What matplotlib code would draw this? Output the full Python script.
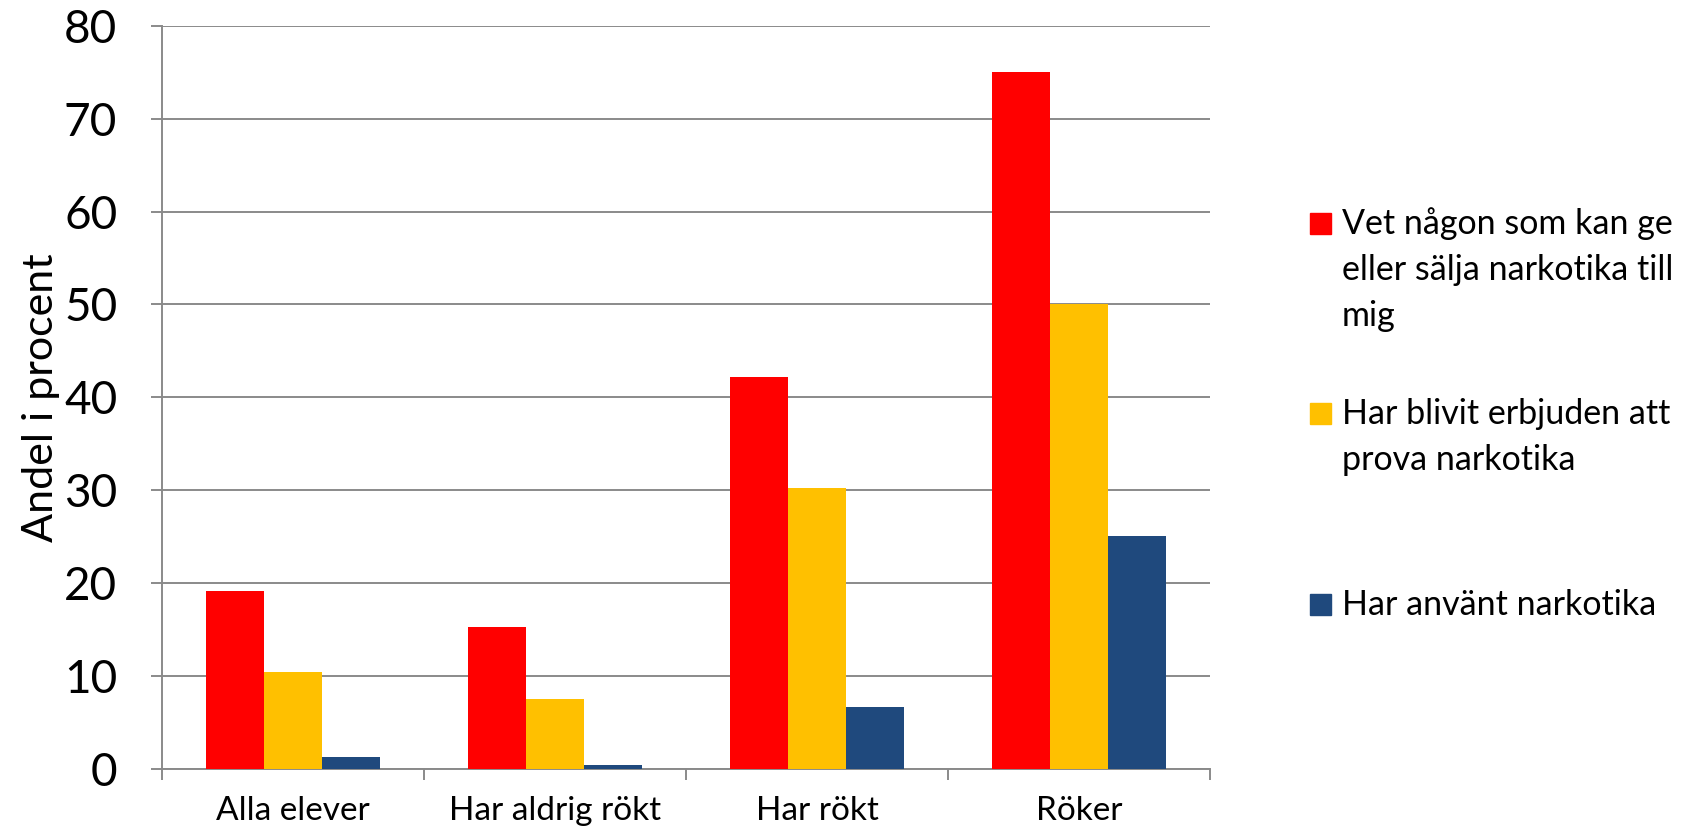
import numpy as np
import matplotlib
matplotlib.use("Agg")
import matplotlib.pyplot as plt
from matplotlib.patches import Rectangle

categories = ["Alla elever", "Har aldrig rökt", "Har rökt", "Röker"]
series_names = [
    ["Vet någon som kan ge", "eller sälja narkotika till", "mig"],
    ["Har blivit erbjuden att", "prova narkotika"],
    ["Har använt narkotika"],
]
vet_nagon = [19.1, 15.3, 42.2, 75.0]
erbjuden = [10.4, 7.5, 30.2, 50.0]
anvant = [1.2, 0.4, 6.6, 25.0]
colors = ["#FF0000", "#FFC000", "#1F497D"]

GRID = "#8A8A8A"
plt.rcParams["font.family"] = ["Lato", "DejaVu Sans"]

fig = plt.figure(figsize=(16.9, 8.35), dpi=100)
ax = fig.add_axes([0.0957, 0.0796, 0.6204, 0.8894])

x = np.arange(len(categories))
w = 0.222
for i, (vals, c) in enumerate(zip([vet_nagon, erbjuden, anvant], colors)):
    ax.bar(x + (i - 1) * w, vals, width=w, color=c, edgecolor="none", zorder=3)

ax.set_xlim(-0.5, len(categories) - 0.5)
ax.set_ylim(0, 80)
ax.set_yticks(np.arange(0, 81, 10))
ax.yaxis.grid(True, color=GRID, lw=1.4, zorder=0)
ax.set_xticks(x)
ax.set_xticklabels(categories, fontsize=24)
ax.set_xticks(np.arange(-0.5, len(categories), 1.0), minor=True)
ax.tick_params(axis="x", which="major", length=0, pad=20)
ax.tick_params(axis="x", which="minor", length=8, width=1.4, color=GRID, direction="out")
ax.tick_params(axis="y", length=8, width=1.4, color=GRID, direction="out",
               labelsize=33, pad=24)
for s in ["top", "right"]:
    ax.spines[s].set_visible(False)
for s in ["left", "bottom"]:
    ax.spines[s].set_color(GRID)
    ax.spines[s].set_linewidth(1.4)
ax.set_ylabel("Andel i procent", fontsize=31, labelpad=3)

# legend, drawn by hand to match the original layout
fw, fh = 1690, 835
tops = [213, 403, 594]
for lines, c, top in zip(series_names, colors, tops):
    fig.patches.append(Rectangle((1310 / fw, 1 - (top + 21) / fh), 21 / fw, 21 / fh,
                                 transform=fig.transFigure, color=c))
    for k, line in enumerate(lines):
        fig.text(1342 / fw, 1 - (top + 21 + 46 * k) / fh, line, fontsize=24.5,
                 va="baseline", ha="left")

fig.savefig("out.png", dpi=100)
